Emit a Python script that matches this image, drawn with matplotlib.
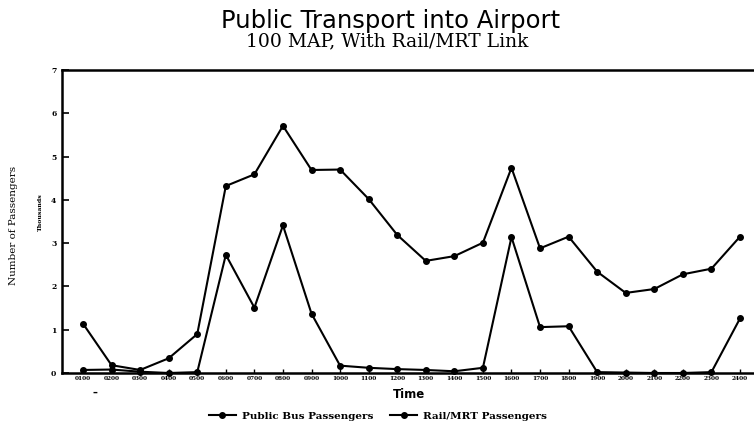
import matplotlib
matplotlib.use("Agg")
import matplotlib.pyplot as plt

hours = ["0100", "0200", "0300", "0400", "0500", "0600", "0700", "0800",
         "0900", "1000", "1100", "1200", "1300", "1400", "1500", "1600",
         "1700", "1800", "1900", "2000", "2100", "2200", "2300", "2400"]
bus = [1.14, 0.18, 0.07, 0.34, 0.90, 4.32, 4.59, 5.71, 4.69, 4.70, 4.02, 3.19,
       2.59, 2.70, 3.01, 4.74, 2.88, 3.15, 2.34, 1.85, 1.94, 2.28, 2.41, 3.15]
rail = [0.07, 0.08, 0.03, 0.00, 0.02, 2.73, 1.51, 3.41, 1.37, 0.17, 0.12, 0.09,
        0.07, 0.04, 0.12, 3.14, 1.06, 1.08, 0.02, 0.01, 0.00, 0.00, 0.02, 1.26]
yticks = [0, 1, 2, 3, 4, 5, 6, 7]

W, H = 754, 440
fig = plt.figure(figsize=(W / 100, H / 100), dpi=100)
left_px, right_px, top_px, bot_px = 62, 760, 70, 373
ax = fig.add_axes([left_px / W, 1 - bot_px / H, (right_px - left_px) / W, (bot_px - top_px) / H])

x = list(range(1, len(hours) + 1))
l1, = ax.plot(x, bus, color="black", lw=1.5, marker="o", ms=4, clip_on=False,
              label="Public Bus Passengers")
l2, = ax.plot(x, rail, color="black", lw=1.5, marker="o", ms=4, clip_on=False,
              label="Rail/MRT Passengers")

px_per_hour = (740 - 83) / 23
ax.set_xlim(1 - (83 - left_px) / px_per_hour, 1 + (right_px - 83) / px_per_hour)
ax.set_ylim(0, 7)

for s in ["left", "bottom", "top"]:
    ax.spines[s].set_linewidth(1.8)
ax.spines["right"].set_visible(False)

ax.set_yticks(yticks)
ax.set_yticklabels([str(v) for v in yticks], fontsize=5.5, fontweight="bold",
                   family="DejaVu Serif")
ax.set_xticks(x)
ax.set_xticklabels(hours, fontsize=4.2, fontweight="bold", family="DejaVu Serif")
ax.tick_params(axis="y", direction="in", length=5, width=1.2, pad=4)
ax.tick_params(axis="x", direction="in", length=3, width=1.0, pad=2)

fig.text(391 / W, 1 - 21 / H, "Public Transport into Airport", ha="center", va="center",
         fontsize=17.5, family="DejaVu Sans")
fig.text(387 / W, 1 - 41 / H, "100 MAP, With Rail/MRT Link", ha="center", va="center",
         fontsize=13.5, family="DejaVu Serif")

fig.text(14 / W, 1 - 225 / H, "Number of Passengers", rotation=90, ha="center", va="center",
         fontsize=7.5, family="DejaVu Serif")
fig.text(40 / W, 1 - 212 / H, "Thousands", rotation=90, ha="center", va="center",
         fontsize=4.5, family="DejaVu Serif", fontweight="bold")
fig.text(409 / W, 1 - 394 / H, "Time", ha="center", va="center",
         fontsize=8.5, family="DejaVu Sans", fontweight="bold")
fig.text(95 / W, 1 - 393 / H, "\u2013", ha="center", va="center", fontsize=7,
         fontweight="bold")

fig.legend(handles=[l1, l2], loc="center", bbox_to_anchor=(378 / W, 1 - 416 / H),
           ncol=2, frameon=False, handlelength=2.6, columnspacing=1.6, handletextpad=0.6,
           prop={"family": "DejaVu Serif", "weight": "bold", "size": 7.5})

fig.savefig("out.png", dpi=100)
